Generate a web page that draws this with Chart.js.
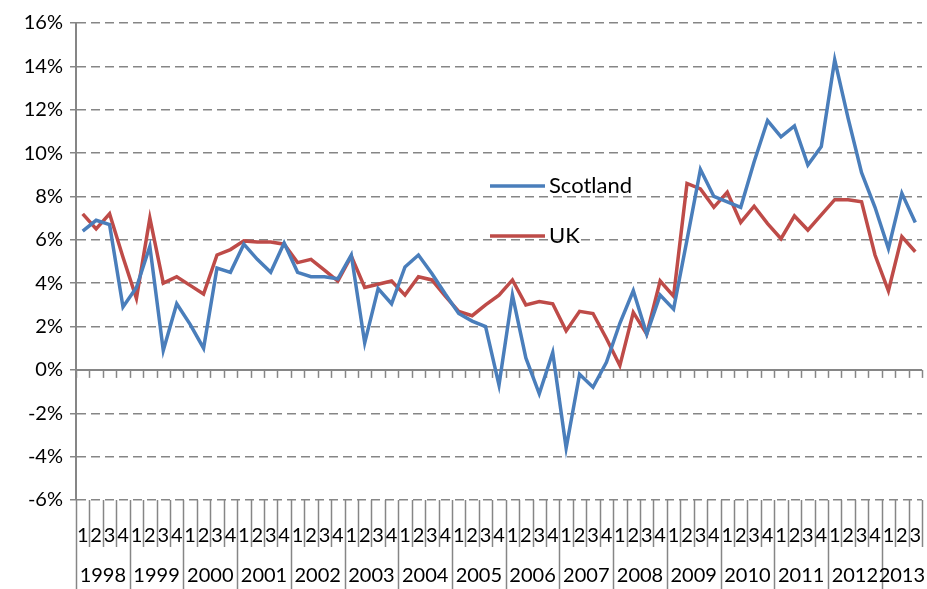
<!DOCTYPE html>
<html>
<head>
<meta charset="utf-8">
<script src="https://cdn.jsdelivr.net/npm/chart.js@4.4.0/dist/chart.umd.min.js"></script>
<style>
  html, body { margin: 0; padding: 0; background: #fff; }
  #wrap { width: 927px; height: 589px; }
</style>
</head>
<body>
<div id="wrap"><canvas id="growthChart"></canvas></div>
<script>
const years = ['1998', '1999', '2000', '2001', '2002', '2003', '2004', '2005',
  '2006', '2007', '2008', '2009', '2010', '2011', '2012', '2013'];
const quarterNames = ['1', '2', '3', '4'];
// 1998 Q1 .. 2013 Q3
const quarters = years.flatMap(() => quarterNames).slice(0, 63);

const scotland = [
  6.4, 6.9, 6.7, 2.9, 3.8, 5.7, 0.9, 3.05, 2.1, 1.0, 4.7, 4.5, 5.8, 5.1, 4.5, 5.85,
  4.5, 4.3, 4.3, 4.2, 5.3, 1.25, 3.75, 3.05, 4.75, 5.3, 4.45, 3.5, 2.6, 2.25, 2.0, -0.7,
  3.45, 0.55, -1.1, 0.8, -3.6, -0.2, -0.8, 0.35, 2.15, 3.65, 1.65, 3.45, 2.8, 6.0, 9.25, 8.0,
  7.75, 7.5, 9.6, 11.5, 10.75, 11.25, 9.45, 10.3, 14.3, 11.6, 9.1, 7.5, 5.6, 8.15, 6.8
];
const uk = [
  7.2, 6.5, 7.2, 5.2, 3.3, 7.0, 4.0, 4.3, 3.9, 3.5, 5.3, 5.55, 5.95, 5.9, 5.9, 5.8,
  4.95, 5.1, 4.6, 4.1, 5.25, 3.8, 3.95, 4.1, 3.45, 4.3, 4.15, 3.4, 2.7, 2.5, 3.0, 3.45,
  4.15, 3.0, 3.15, 3.05, 1.8, 2.7, 2.6, 1.45, 0.2, 2.65, 1.65, 4.1, 3.4, 8.6, 8.35, 7.5,
  8.2, 6.8, 7.55, 6.75, 6.05, 7.1, 6.45, 7.15, 7.85, 7.85, 7.75, 5.3, 3.65, 6.15, 5.45
];

const gridGrey = '#868686';
const fontFamily = 'Lato, "Open Sans", sans-serif';

// zero axis line with small ticks, plus label separators below the plot
const axisDecor = {
  id: 'axisDecor',
  beforeDatasetsDraw(chart) {
    const { ctx, chartArea } = chart;
    const y0 = chart.scales.y.getPixelForValue(0);
    const step = (chartArea.right - chartArea.left) / quarters.length;
    ctx.save();
    ctx.strokeStyle = gridGrey;
    ctx.lineWidth = 2;
    ctx.beginPath();
    ctx.moveTo(chartArea.left, y0);
    ctx.lineTo(chartArea.right, y0);
    ctx.stroke();
    ctx.lineWidth = 1.5;
    for (let k = 0; k <= quarters.length; k++) {
      const px = Math.round(chartArea.left + k * step) + 0.5;
      ctx.beginPath();
      ctx.moveTo(px, y0);
      ctx.lineTo(px, y0 + 8);
      ctx.stroke();
    }
    ctx.restore();
  },
  afterDraw(chart) {
    const { ctx, chartArea } = chart;
    const step = (chartArea.right - chartArea.left) / quarters.length;
    const bottom = chart.height;
    ctx.save();
    ctx.strokeStyle = gridGrey;
    ctx.lineWidth = 1.5;
    for (let k = 0; k <= quarters.length; k++) {
      const px = Math.round(chartArea.left + k * step) + 0.5;
      const long = k % 4 === 0 && k < quarters.length;
      ctx.beginPath();
      ctx.moveTo(px, chartArea.bottom);
      ctx.lineTo(px, long ? bottom : chartArea.bottom + 47);
      ctx.stroke();
    }
    // year labels centred under their quarters
    ctx.fillStyle = '#000';
    ctx.font = '20px ' + fontFamily;
    ctx.textAlign = 'center';
    ctx.textBaseline = 'middle';
    years.forEach((yr, i) => {
      const first = i * 4;
      const last = Math.min(first + 3, quarters.length - 1);
      const cx = (chart.scales.x.getPixelForValue(first) + chart.scales.x.getPixelForValue(last)) / 2;
      ctx.fillText(yr, cx, 576);
    });
    ctx.restore();
  }
};

// legend sitting inside the plot
const insideLegend = {
  id: 'insideLegend',
  afterDraw(chart) {
    const { ctx } = chart;
    const spots = [186, 236];
    ctx.save();
    ctx.font = '22px ' + fontFamily;
    ctx.textBaseline = 'middle';
    ctx.textAlign = 'left';
    chart.data.datasets.forEach((ds, i) => {
      ctx.strokeStyle = ds.borderColor;
      ctx.lineWidth = ds.borderWidth;
      ctx.beginPath();
      ctx.moveTo(490, spots[i]);
      ctx.lineTo(545, spots[i]);
      ctx.stroke();
      ctx.fillStyle = '#000';
      ctx.fillText(ds.label, 549, spots[i]);
    });
    ctx.restore();
  }
};

new Chart(document.getElementById('growthChart'), {
  type: 'line',
  data: {
    labels: quarters,
    datasets: [
      { label: 'Scotland', data: scotland, borderColor: '#4A7EBB', borderWidth: 3.5, pointRadius: 0, tension: 0, fill: false },
      { label: 'UK', data: uk, borderColor: '#BE4B48', borderWidth: 3.5, pointRadius: 0, tension: 0, fill: false }
    ]
  },
  options: {
    responsive: true,
    maintainAspectRatio: false,
    animation: false,
    devicePixelRatio: 1,
    layout: { padding: { top: 23, right: 5, left: 0, bottom: 0 } },
    plugins: { legend: { display: false }, tooltip: { enabled: false } },
    scales: {
      x: {
        offset: true,
        grid: { display: false, drawTicks: false },
        border: { display: false },
        ticks: { autoSkip: false, maxRotation: 0, minRotation: 0, color: '#000', font: { family: fontFamily, size: 20 }, padding: 24 },
        afterFit: s => { s.height = 89; s.paddingLeft = 0; s.paddingRight = 0; }
      },
      y: {
        min: -6,
        max: 16,
        ticks: { stepSize: 2, callback: v => v + '%', color: '#000', font: { family: fontFamily, size: 20 }, padding: 7 },
        grid: {
          color: c => (c.tick && c.tick.value === 0 ? 'rgba(0,0,0,0)' : gridGrey),
          tickColor: gridGrey,
          lineWidth: 1.5,
          tickLength: 6
        },
        border: { display: true, color: gridGrey, width: 2, dash: [9, 5] },
        afterFit: s => { s.width = 76; }
      }
    }
  },
  plugins: [axisDecor, insideLegend]
});
</script>
</body>
</html>
